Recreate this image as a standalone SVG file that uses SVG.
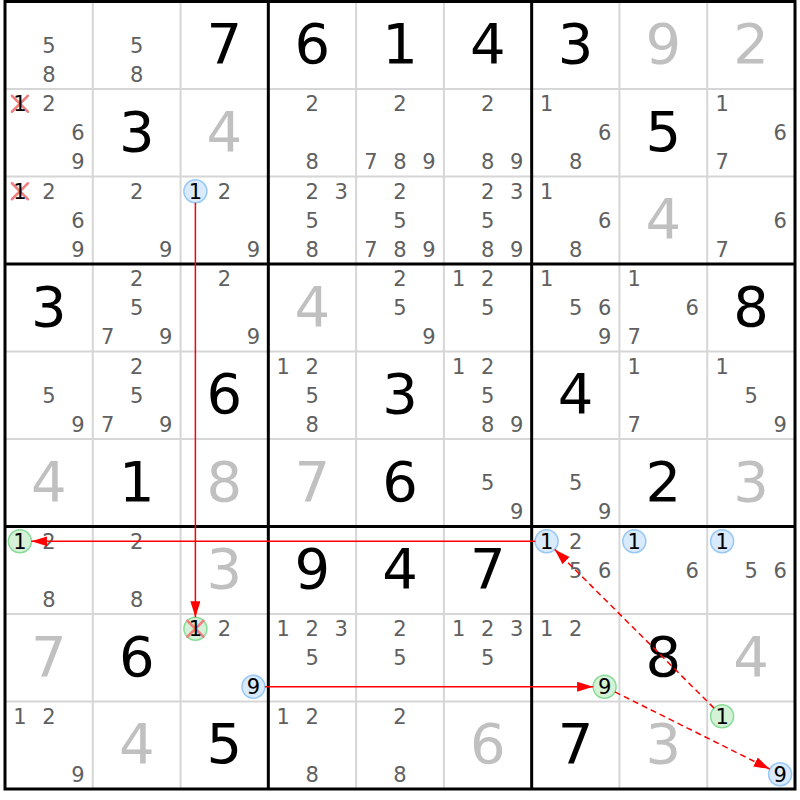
<svg xmlns="http://www.w3.org/2000/svg" width="800" height="800" viewBox="0 0 800 800">
<style>
text{font-family:"DejaVu Sans","Liberation Sans",sans-serif;text-anchor:middle}
.c{font-size:21px;fill:#606060}
.k{font-size:21px;fill:#000}
.g{font-size:56px;fill:#000}
.s{font-size:56px;fill:#c0c0c0}
.bc{fill:#d8eafc;stroke:#98c8f4;stroke-width:1.5}
.gc{fill:#d5f2d8;stroke:#88dc98;stroke-width:1.5}
.x{stroke:#f08080;stroke-width:2.5;stroke-linecap:round}
.thin{stroke:#d6d6d6;stroke-width:2}
.thick{stroke:#000;stroke-width:3}
.ar{fill:none;stroke:#ff0000;stroke-width:1.5}
</style>
<defs>
<marker id="ah" markerUnits="userSpaceOnUse" markerWidth="16" markerHeight="10" refX="16" refY="5" orient="auto"><path d="M0,0 L16,5 L0,10 z" fill="#ff0000" stroke="none"/></marker>
</defs>
<rect width="800" height="800" fill="#fff"/>
<g id="grid">
<path class="thin" d="M92.78,1.5V789M180.56,1.5V789M356.11,1.5V789M443.89,1.5V789M619.44,1.5V789M707.22,1.5V789M5,89H795M5,176.5H795M5,351.5H795M5,439H795M5,614H795M5,701.5H795"/>
<path class="thick" d="M268.33,1.5V789M531.67,1.5V789M5,264H795M5,526.5H795"/>
<rect x="5" y="1.5" width="790" height="787.5" fill="none" stroke="#000" stroke-width="3"/>
</g>
<g id="cells">
<!-- row 0 -->
<g id="r0c0" transform="translate(48.9,45.25)"><text class="c" x="0" y="7.5">5</text><text class="c" x="0" y="36.5">8</text></g>
<g id="r0c1" transform="translate(136.7,45.25)"><text class="c" x="0" y="7.5">5</text><text class="c" x="0" y="36.5">8</text></g>
<g id="r0c2" transform="translate(224.4,45.25)"><text class="g" x="0" y="18">7</text></g>
<g id="r0c3" transform="translate(312.2,45.25)"><text class="g" x="0" y="18">6</text></g>
<g id="r0c4" transform="translate(400,45.25)"><text class="g" x="0" y="18">1</text></g>
<g id="r0c5" transform="translate(487.8,45.25)"><text class="g" x="0" y="18">4</text></g>
<g id="r0c6" transform="translate(575.6,45.25)"><text class="g" x="0" y="18">3</text></g>
<g id="r0c7" transform="translate(663.3,45.25)"><text class="s" x="0" y="18">9</text></g>
<g id="r0c8" transform="translate(751.1,45.25)"><text class="s" x="0" y="18">2</text></g>
<!-- row 1 -->
<g id="r1c0" transform="translate(48.9,132.75)"><path class="x" d="M-37,-37L-21,-21M-37,-21L-21,-37"/><text class="k" x="-29" y="-21.5">1</text><text class="c" x="0" y="-21.5">2</text><text class="c" x="29" y="7.5">6</text><text class="c" x="29" y="36.5">9</text></g>
<g id="r1c1" transform="translate(136.7,132.75)"><text class="g" x="0" y="18">3</text></g>
<g id="r1c2" transform="translate(224.4,132.75)"><text class="s" x="0" y="18">4</text></g>
<g id="r1c3" transform="translate(312.2,132.75)"><text class="c" x="0" y="-21.5">2</text><text class="c" x="0" y="36.5">8</text></g>
<g id="r1c4" transform="translate(400,132.75)"><text class="c" x="0" y="-21.5">2</text><text class="c" x="-29" y="36.5">7</text><text class="c" x="0" y="36.5">8</text><text class="c" x="29" y="36.5">9</text></g>
<g id="r1c5" transform="translate(487.8,132.75)"><text class="c" x="0" y="-21.5">2</text><text class="c" x="0" y="36.5">8</text><text class="c" x="29" y="36.5">9</text></g>
<g id="r1c6" transform="translate(575.6,132.75)"><text class="c" x="-29" y="-21.5">1</text><text class="c" x="29" y="7.5">6</text><text class="c" x="0" y="36.5">8</text></g>
<g id="r1c7" transform="translate(663.3,132.75)"><text class="g" x="0" y="18">5</text></g>
<g id="r1c8" transform="translate(751.1,132.75)"><text class="c" x="-29" y="-21.5">1</text><text class="c" x="29" y="7.5">6</text><text class="c" x="-29" y="36.5">7</text></g>
<!-- row 2 -->
<g id="r2c0" transform="translate(48.9,220.25)"><path class="x" d="M-37,-37L-21,-21M-37,-21L-21,-37"/><text class="k" x="-29" y="-21.5">1</text><text class="c" x="0" y="-21.5">2</text><text class="c" x="29" y="7.5">6</text><text class="c" x="29" y="36.5">9</text></g>
<g id="r2c1" transform="translate(136.7,220.25)"><text class="c" x="0" y="-21.5">2</text><text class="c" x="29" y="36.5">9</text></g>
<g id="r2c2" transform="translate(224.4,220.25)"><circle class="bc" cx="-29" cy="-29" r="11.5"/><text class="k" x="-29" y="-21.5">1</text><text class="c" x="0" y="-21.5">2</text><text class="c" x="29" y="36.5">9</text></g>
<g id="r2c3" transform="translate(312.2,220.25)"><text class="c" x="0" y="-21.5">2</text><text class="c" x="29" y="-21.5">3</text><text class="c" x="0" y="7.5">5</text><text class="c" x="0" y="36.5">8</text></g>
<g id="r2c4" transform="translate(400,220.25)"><text class="c" x="0" y="-21.5">2</text><text class="c" x="0" y="7.5">5</text><text class="c" x="-29" y="36.5">7</text><text class="c" x="0" y="36.5">8</text><text class="c" x="29" y="36.5">9</text></g>
<g id="r2c5" transform="translate(487.8,220.25)"><text class="c" x="0" y="-21.5">2</text><text class="c" x="29" y="-21.5">3</text><text class="c" x="0" y="7.5">5</text><text class="c" x="0" y="36.5">8</text><text class="c" x="29" y="36.5">9</text></g>
<g id="r2c6" transform="translate(575.6,220.25)"><text class="c" x="-29" y="-21.5">1</text><text class="c" x="29" y="7.5">6</text><text class="c" x="0" y="36.5">8</text></g>
<g id="r2c7" transform="translate(663.3,220.25)"><text class="s" x="0" y="18">4</text></g>
<g id="r2c8" transform="translate(751.1,220.25)"><text class="c" x="29" y="7.5">6</text><text class="c" x="-29" y="36.5">7</text></g>
<!-- row 3 -->
<g id="r3c0" transform="translate(48.9,307.75)"><text class="g" x="0" y="18">3</text></g>
<g id="r3c1" transform="translate(136.7,307.75)"><text class="c" x="0" y="-21.5">2</text><text class="c" x="0" y="7.5">5</text><text class="c" x="-29" y="36.5">7</text><text class="c" x="29" y="36.5">9</text></g>
<g id="r3c2" transform="translate(224.4,307.75)"><text class="c" x="0" y="-21.5">2</text><text class="c" x="29" y="36.5">9</text></g>
<g id="r3c3" transform="translate(312.2,307.75)"><text class="s" x="0" y="18">4</text></g>
<g id="r3c4" transform="translate(400,307.75)"><text class="c" x="0" y="-21.5">2</text><text class="c" x="0" y="7.5">5</text><text class="c" x="29" y="36.5">9</text></g>
<g id="r3c5" transform="translate(487.8,307.75)"><text class="c" x="-29" y="-21.5">1</text><text class="c" x="0" y="-21.5">2</text><text class="c" x="0" y="7.5">5</text></g>
<g id="r3c6" transform="translate(575.6,307.75)"><text class="c" x="-29" y="-21.5">1</text><text class="c" x="0" y="7.5">5</text><text class="c" x="29" y="7.5">6</text><text class="c" x="29" y="36.5">9</text></g>
<g id="r3c7" transform="translate(663.3,307.75)"><text class="c" x="-29" y="-21.5">1</text><text class="c" x="29" y="7.5">6</text><text class="c" x="-29" y="36.5">7</text></g>
<g id="r3c8" transform="translate(751.1,307.75)"><text class="g" x="0" y="18">8</text></g>
<!-- row 4 -->
<g id="r4c0" transform="translate(48.9,395.25)"><text class="c" x="0" y="7.5">5</text><text class="c" x="29" y="36.5">9</text></g>
<g id="r4c1" transform="translate(136.7,395.25)"><text class="c" x="0" y="-21.5">2</text><text class="c" x="0" y="7.5">5</text><text class="c" x="-29" y="36.5">7</text><text class="c" x="29" y="36.5">9</text></g>
<g id="r4c2" transform="translate(224.4,395.25)"><text class="g" x="0" y="18">6</text></g>
<g id="r4c3" transform="translate(312.2,395.25)"><text class="c" x="-29" y="-21.5">1</text><text class="c" x="0" y="-21.5">2</text><text class="c" x="0" y="7.5">5</text><text class="c" x="0" y="36.5">8</text></g>
<g id="r4c4" transform="translate(400,395.25)"><text class="g" x="0" y="18">3</text></g>
<g id="r4c5" transform="translate(487.8,395.25)"><text class="c" x="-29" y="-21.5">1</text><text class="c" x="0" y="-21.5">2</text><text class="c" x="0" y="7.5">5</text><text class="c" x="0" y="36.5">8</text><text class="c" x="29" y="36.5">9</text></g>
<g id="r4c6" transform="translate(575.6,395.25)"><text class="g" x="0" y="18">4</text></g>
<g id="r4c7" transform="translate(663.3,395.25)"><text class="c" x="-29" y="-21.5">1</text><text class="c" x="-29" y="36.5">7</text></g>
<g id="r4c8" transform="translate(751.1,395.25)"><text class="c" x="-29" y="-21.5">1</text><text class="c" x="0" y="7.5">5</text><text class="c" x="29" y="36.5">9</text></g>
<!-- row 5 -->
<g id="r5c0" transform="translate(48.9,482.75)"><text class="s" x="0" y="18">4</text></g>
<g id="r5c1" transform="translate(136.7,482.75)"><text class="g" x="0" y="18">1</text></g>
<g id="r5c2" transform="translate(224.4,482.75)"><text class="s" x="0" y="18">8</text></g>
<g id="r5c3" transform="translate(312.2,482.75)"><text class="s" x="0" y="18">7</text></g>
<g id="r5c4" transform="translate(400,482.75)"><text class="g" x="0" y="18">6</text></g>
<g id="r5c5" transform="translate(487.8,482.75)"><text class="c" x="0" y="7.5">5</text><text class="c" x="29" y="36.5">9</text></g>
<g id="r5c6" transform="translate(575.6,482.75)"><text class="c" x="0" y="7.5">5</text><text class="c" x="29" y="36.5">9</text></g>
<g id="r5c7" transform="translate(663.3,482.75)"><text class="g" x="0" y="18">2</text></g>
<g id="r5c8" transform="translate(751.1,482.75)"><text class="s" x="0" y="18">3</text></g>
<!-- row 6 -->
<g id="r6c0" transform="translate(48.9,570.25)"><circle class="gc" cx="-29" cy="-29" r="11.5"/><text class="k" x="-29" y="-21.5">1</text><text class="c" x="0" y="-21.5">2</text><text class="c" x="0" y="36.5">8</text></g>
<g id="r6c1" transform="translate(136.7,570.25)"><text class="c" x="0" y="-21.5">2</text><text class="c" x="0" y="36.5">8</text></g>
<g id="r6c2" transform="translate(224.4,570.25)"><text class="s" x="0" y="18">3</text></g>
<g id="r6c3" transform="translate(312.2,570.25)"><text class="g" x="0" y="18">9</text></g>
<g id="r6c4" transform="translate(400,570.25)"><text class="g" x="0" y="18">4</text></g>
<g id="r6c5" transform="translate(487.8,570.25)"><text class="g" x="0" y="18">7</text></g>
<g id="r6c6" transform="translate(575.6,570.25)"><circle class="bc" cx="-29" cy="-29" r="11.5"/><text class="k" x="-29" y="-21.5">1</text><text class="c" x="0" y="-21.5">2</text><text class="c" x="0" y="7.5">5</text><text class="c" x="29" y="7.5">6</text></g>
<g id="r6c7" transform="translate(663.3,570.25)"><circle class="bc" cx="-29" cy="-29" r="11.5"/><text class="k" x="-29" y="-21.5">1</text><text class="c" x="29" y="7.5">6</text></g>
<g id="r6c8" transform="translate(751.1,570.25)"><circle class="bc" cx="-29" cy="-29" r="11.5"/><text class="k" x="-29" y="-21.5">1</text><text class="c" x="0" y="7.5">5</text><text class="c" x="29" y="7.5">6</text></g>
<!-- row 7 -->
<g id="r7c0" transform="translate(48.9,657.75)"><text class="s" x="0" y="18">7</text></g>
<g id="r7c1" transform="translate(136.7,657.75)"><text class="g" x="0" y="18">6</text></g>
<g id="r7c2" transform="translate(224.4,657.75)"><circle class="gc" cx="-29" cy="-29" r="11.5"/><path class="x" d="M-37,-37L-21,-21M-37,-21L-21,-37"/><text class="k" x="-29" y="-21.5">1</text><text class="c" x="0" y="-21.5">2</text><circle class="bc" cx="29" cy="29" r="11.5"/><text class="k" x="29" y="36.5">9</text></g>
<g id="r7c3" transform="translate(312.2,657.75)"><text class="c" x="-29" y="-21.5">1</text><text class="c" x="0" y="-21.5">2</text><text class="c" x="29" y="-21.5">3</text><text class="c" x="0" y="7.5">5</text></g>
<g id="r7c4" transform="translate(400,657.75)"><text class="c" x="0" y="-21.5">2</text><text class="c" x="0" y="7.5">5</text></g>
<g id="r7c5" transform="translate(487.8,657.75)"><text class="c" x="-29" y="-21.5">1</text><text class="c" x="0" y="-21.5">2</text><text class="c" x="29" y="-21.5">3</text><text class="c" x="0" y="7.5">5</text></g>
<g id="r7c6" transform="translate(575.6,657.75)"><text class="c" x="-29" y="-21.5">1</text><text class="c" x="0" y="-21.5">2</text><circle class="gc" cx="29" cy="29" r="11.5"/><text class="k" x="29" y="36.5">9</text></g>
<g id="r7c7" transform="translate(663.3,657.75)"><text class="g" x="0" y="18">8</text></g>
<g id="r7c8" transform="translate(751.1,657.75)"><text class="s" x="0" y="18">4</text></g>
<!-- row 8 -->
<g id="r8c0" transform="translate(48.9,745.25)"><text class="c" x="-29" y="-21.5">1</text><text class="c" x="0" y="-21.5">2</text><text class="c" x="29" y="36.5">9</text></g>
<g id="r8c1" transform="translate(136.7,745.25)"><text class="s" x="0" y="18">4</text></g>
<g id="r8c2" transform="translate(224.4,745.25)"><text class="g" x="0" y="18">5</text></g>
<g id="r8c3" transform="translate(312.2,745.25)"><text class="c" x="-29" y="-21.5">1</text><text class="c" x="0" y="-21.5">2</text><text class="c" x="0" y="36.5">8</text></g>
<g id="r8c4" transform="translate(400,745.25)"><text class="c" x="0" y="-21.5">2</text><text class="c" x="0" y="36.5">8</text></g>
<g id="r8c5" transform="translate(487.8,745.25)"><text class="s" x="0" y="18">6</text></g>
<g id="r8c6" transform="translate(575.6,745.25)"><text class="g" x="0" y="18">7</text></g>
<g id="r8c7" transform="translate(663.3,745.25)"><text class="s" x="0" y="18">3</text></g>
<g id="r8c8" transform="translate(751.1,745.25)"><circle class="gc" cx="-29" cy="-29" r="11.5"/><text class="k" x="-29" y="-21.5">1</text><circle class="bc" cx="29" cy="29" r="11.5"/><text class="k" x="29" y="36.5">9</text></g>
</g>
<g id="connectors">
<line class="ar" x1="195.4" y1="202.75" x2="195.4" y2="617.25" marker-end="url(#ah)"/>
<line class="ar" x1="535.1" y1="541.25" x2="31.4" y2="541.25" marker-end="url(#ah)"/>
<line class="ar" x1="264.9" y1="686.75" x2="593.1" y2="686.75" marker-end="url(#ah)"/>
<line class="ar" x1="714" y1="708.1" x2="554.7" y2="549.4" marker-end="url(#ah)" stroke-dasharray="6,4"/>
<line class="ar" x1="614.9" y1="691.9" x2="769.8" y2="769.1" marker-end="url(#ah)" stroke-dasharray="6,4"/>
</g>
</svg>
